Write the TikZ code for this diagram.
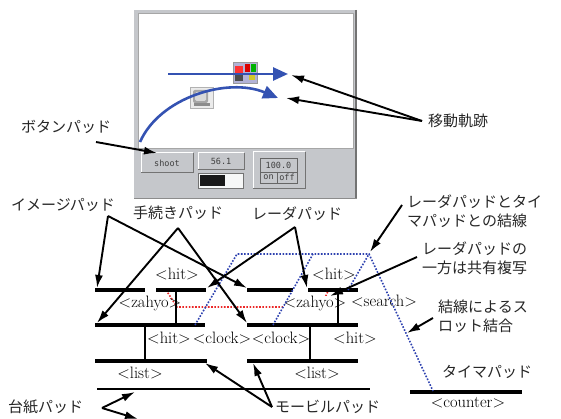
\documentclass[tikz,border=0pt]{standalone}
\usepackage{fontspec}
\newfontfamily\jpfont{Noto Sans CJK JP}
\newfontfamily\uifont{DejaVu Sans Mono}
\usetikzlibrary{arrows.meta}

\definecolor{panel}{RGB}{197,199,203}
\definecolor{trackblue}{RGB}{52,82,178}
\definecolor{linkblue}{RGB}{45,65,175}
\definecolor{copyred}{RGB}{235,40,40}
\definecolor{iconbg}{RGB}{178,178,214}

% raised widget box: x1,y1 (top left), x2,y2 (bottom right)
\newcommand\bevelbox[4]{%
  \fill[panel] (#1,#2) rectangle (#3,#4);
  \draw[white, line width=1pt] (#1,#4) -- (#1,#2) -- (#3,#2);
  \draw[black!55, line width=1pt] (#1,#4) -- (#3,#4) -- (#3,#2);
}

\tikzset{
  jp/.style={font=\jpfont\fontsize{15}{19}\selectfont, text=black!85, inner sep=0pt, align=left},
  slot/.style={font=\fontsize{16.5}{18}\selectfont, inner sep=0pt},
  ui/.style={font=\uifont\fontsize{8.5}{10}\selectfont, text=black!75, inner sep=0pt},
  pad/.style={line width=3.2pt},
  stem/.style={line width=2pt},
  callout/.style={line width=1.9pt, -{Latex[length=13pt,width=8pt]}},
  track/.style={trackblue, line width=2.6pt, -{Triangle[length=15pt,width=13pt]}},
  redlink/.style={copyred, line width=1.6pt, dash pattern=on 1.6pt off 1.6pt},
  bluelink/.style={linkblue, line width=1.6pt, dash pattern=on 1.6pt off 1.6pt},
}

\begin{document}
\begin{tikzpicture}[x=1pt,y=-1pt]
\useasboundingbox (0,0) rectangle (561,419);

% ---------------- application window ----------------
\fill[panel] (134,10) rectangle (357,199);
\fill[white] (138,13) rectangle (353,148);
\draw[black!35, line width=0.6pt] (138,13) rectangle (353,148);
\draw[black!55, line width=1.2pt] (356,10) -- (356,199);
\draw[black!45, line width=1pt] (134,198.5) -- (357,198.5);

% widgets
\bevelbox{141}{153}{193}{173}
\node[ui] (shoot) at (167,163) {shoot};
\bevelbox{198}{153}{244}{170}
\node[ui] (speed) at (221,161.5) {56.1};
\fill[white!85!panel] (198,173) rectangle (243,188);
\draw[black!55, line width=0.8pt] (198,173) rectangle (243,188);
\fill[black!90] (200,175) rectangle (225,186);
\bevelbox{253}{152}{305}{189}
\draw[black!60, line width=0.8pt] (260,158) rectangle (297,172);
\node[ui] (range) at (278.5,165) {100.0};
\draw[black!60, line width=0.8pt] (260,172) rectangle (277,183) (277,172) rectangle (297,183);
\node[ui] (on) at (268.5,177.5) {on};
\node[ui] (off) at (287,177.5) {off};

% sprite icons
\fill[iconbg] (233,62) rectangle (257,83);
\draw[black!40, line width=0.5pt] (233,62) rectangle (257,83);
\fill[red!80] (235,66) rectangle (243,74);
\fill[black!70] (235,75) rectangle (243,81);
\fill[red!85!black] (245,64) rectangle (250,72);
\fill[green!70!black] (251,64) rectangle (256,72);
\fill[yellow!80!black] (249,75) rectangle (255,80);
\fill[black!8] (190,87) rectangle (213,108);
\draw[black!30, line width=0.5pt] (190,87) rectangle (213,108);
\fill[black!35, rounded corners=2pt] (193,90) rectangle (208,103);
\fill[black!15, rounded corners=1.5pt] (195,92) rectangle (206,101);
\fill[black!45] (194,103) rectangle (210,106);

% movement tracks
\coordinate (trackA0) at (168,74);
\coordinate (trackA1) at (288,74);
\coordinate (trackB0) at (140,142);
\coordinate (trackB1) at (278,98);
\draw[track] (trackA0) -- (trackA1);
\draw[track] (trackB0) .. controls (160,97) and (228,77) .. (trackB1);

% window labels
\node[jp] (btnlbl) at (66,127) {ボタンパッド};
\node[jp, anchor=west] (tracklbl) at (428,121) {移動軌跡};
\coordinate (btnfrom) at (96,142);
\coordinate (shoottip) at (157,153);
\coordinate (trackfrom) at (422,121);
\coordinate (tracktipA) at (291,75);
\coordinate (tracktipB) at (286,98);
\draw[callout] (btnfrom) -- (shoottip);
\draw[callout] (trackfrom) -- (tracktipA);
\draw[callout] (trackfrom) -- (tracktipB);

% ---------------- pad structure ----------------
% slot copy marker (drawn under the slot names)
\draw[redlink] (166,290) -- (177,307) -- (321,307) -- (328,291);

% slot names
\node[slot] (hitA) at (177,274) {\textless hit\textgreater};
\node[slot] (zahyoA) at (150,303) {\textless zahyo\textgreater};
\node[slot] (hitB) at (334,274) {\textless hit\textgreater};
\node[slot, fill=white] (zahyoB) at (315,303) {\textless zahyo\textgreater};
\node[slot] (search) at (384,301) {\textless search\textgreater};
\node[slot] (hitC) at (169,338) {\textless hit\textgreater};
\node[slot] (clockA) at (222,338) {\textless clock\textgreater};
\node[slot] (clockB) at (281,338) {\textless clock\textgreater};
\node[slot] (hitD) at (355,338) {\textless hit\textgreater};
\node[slot] (listA) at (140,373) {\textless list\textgreater};
\node[slot] (listB) at (317,373) {\textless list\textgreater};
\node[slot] (counter) at (468,403) {\textless counter\textgreater};

% pads
\draw[pad] (95,290) -- (145,290) (156,290) -- (206,290)
           (247,290) -- (293,290) (308,290) -- (358,290);
\draw[pad] (95,325) -- (205,325) (247,325) -- (358,325);
\draw[pad] (95,361) -- (207,361) (247,361) -- (358,361);
\draw[line width=2.6pt] (97,389) -- (370,389);
\draw[pad] (410,392) -- (522,392);
\draw[stem] (176,290) -- (176,325) (338,290) -- (338,325)
            (145,325) -- (145,361) (310,325) -- (310,361);

% slot links between radar pads and the timer pad
\draw[bluelink] (195,325) -- (237,254) -- (369,254) -- (433,391);
\draw[bluelink] (273,325) -- (313,254);
\draw[bluelink] (348,290) -- (369,254);

% labels
\node[jp] (imglbl) at (63,205) {イメージパッド};
\node[jp] (proclbl) at (178,213) {手続きパッド};
\node[jp] (radarlbl) at (297,214) {レーダパッド};
\node[jp, anchor=west] (wirelbl) at (407,211) {レーダパッドとタイ\\マパッドとの結線};
\node[jp, anchor=west] (sharelbl) at (422,258.5) {レーダパッドの\\一方は共有複写};
\node[jp, anchor=west] (bindlbl) at (438,316) {結線によるス\\ロット結合};
\node[jp, anchor=west] (timerlbl) at (442,372) {タイマパッド};
\node[jp, anchor=west] (baselbl) at (8,407) {台紙パッド};
\node[jp, anchor=west] (mobilelbl) at (275,407) {モービルパッド};

% callout origins and targets
\coordinate (imgfrom) at (108,216);
\coordinate (procfrom) at (178,228);
\coordinate (radarfrom) at (295,227);
\coordinate (wirefrom) at (402,205);
\coordinate (sharefrom) at (417,257);
\coordinate (bindfrom) at (433,318);
\coordinate (basefrom) at (102,408);
\coordinate (mobilefrom) at (272,407);

\draw[callout] (imgfrom) -- (97,288);
\draw[callout] (imgfrom) -- (247,288);
\draw[callout] (procfrom) -- (97,323);
\draw[callout] (procfrom) -- (247,323);
\draw[callout] (radarfrom) -- (207,288);
\draw[callout] (radarfrom) -- (307,288);
\draw[callout] (wirefrom) -- (370,252);
\draw[callout] (sharefrom) -- (330,296);
\draw[callout] (bindfrom) -- (407,333);
\draw[callout] (basefrom) -- (135,392);
\draw[callout] (basefrom) -- (138,419);
\draw[callout] (mobilefrom) -- (205,363);
\draw[callout] (mobilefrom) -- (253,363);
\end{tikzpicture}
\end{document}
